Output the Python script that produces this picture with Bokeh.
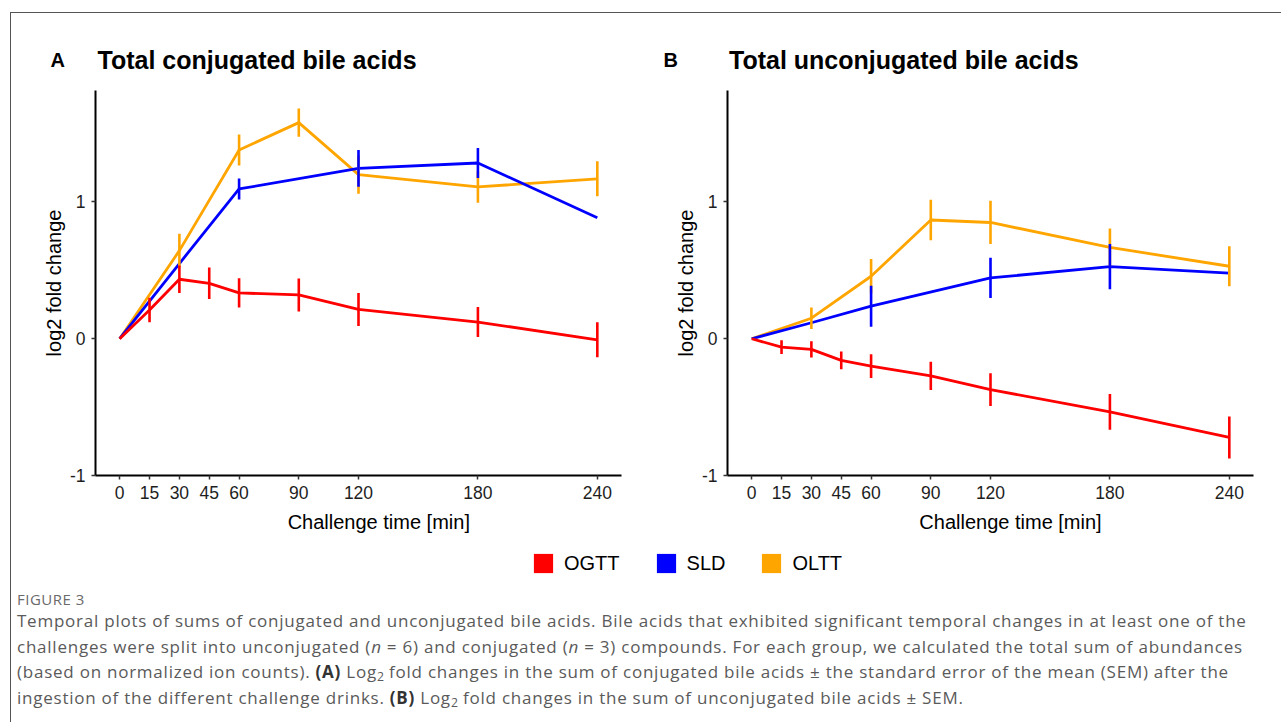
from bokeh.plotting import figure
from bokeh.models import FixedTicker, Range1d, Legend, LegendItem, Div
from bokeh.core.properties import value
from bokeh.layouts import row, column
from bokeh.embed import file_html
from bokeh.resources import INLINE

# ---------------- data ----------------
x_ticks = [0, 15, 30, 45, 60, 90, 120, 180, 240]
y_ticks = [-1, 0, 1]
y_tick_labels = {-1: "-1", 0: "0", 1: "1"}
groups = ["OGTT", "SLD", "OLTT"]
group_colors = ["#FF0000", "#0000FF", "#FFA500"]

times_ogtt = [0, 15, 30, 45, 60, 90, 120, 180, 240]
times_sld = [0, 30, 60, 120, 180, 240]
times_oltt = [0, 30, 60, 90, 120, 180, 240]

# Panel A: total conjugated bile acids (log2 fold change, SEM)
conj_ogtt = [0.0, 0.21, 0.435, 0.405, 0.335, 0.32, 0.214, 0.122, -0.008]
conj_ogtt_sem = [None, 0.09, 0.10, 0.115, 0.107, 0.12, 0.12, 0.11, 0.128]
conj_sld = [0.0, 0.55, 1.095, 1.246, 1.285, 0.885]
conj_sld_sem = [None, None, 0.077, 0.134, 0.11, None]
conj_oltt = [0.0, 0.644, 1.38, 1.58, 1.20, 1.11, 1.169]
conj_oltt_sem = [None, 0.124, 0.113, 0.103, 0.14, 0.115, 0.128]

# Panel B: total unconjugated bile acids
unconj_ogtt = [0.0, -0.061, -0.078, -0.158, -0.20, -0.272, -0.372, -0.535, -0.722]
unconj_ogtt_sem = [None, 0.05, 0.06, 0.065, 0.087, 0.103, 0.12, 0.13, 0.154]
unconj_sld = [0.0, 0.117, 0.238, 0.445, 0.527, 0.479]
unconj_sld_sem = [None, None, 0.15, 0.147, 0.165, None]
unconj_oltt = [0.0, 0.15, 0.457, 0.868, 0.85, 0.668, 0.53]
unconj_oltt_sem = [None, 0.079, 0.126, 0.148, 0.158, 0.138, 0.146]

panel_letters = ["A", "B"]
panel_titles = ["Total conjugated bile acids", "Total unconjugated bile acids"]
x_title = "Challenge time [min]"
y_title = "log2 fold change"

caption_head = "FIGURE 3"
caption_lines = [
    "Temporal plots of sums of conjugated and unconjugated bile acids. Bile acids that exhibited significant temporal changes in at least one of the",
    "challenges were split into unconjugated (<i>n</i> = 6) and conjugated (<i>n</i> = 3) compounds. For each group, we calculated the total sum of abundances",
    "(based on normalized ion counts). <b style='color:#333'>(A)</b> Log<sub>2</sub> fold changes in the sum of conjugated bile acids \u00b1 the standard error of the mean (SEM) after the",
    "ingestion of the different challenge drinks. <b style='color:#333'>(B)</b> Log<sub>2</sub> fold changes in the sum of unconjugated bile acids \u00b1 SEM.",
]

# ---------------- layout geometry ----------------
FIG_W = 630
HEAD_H = 70
PANEL_H = 427
STRIP_H = 30
FRAME_W, FRAME_H = 526, 385
FRAME_TOP = 7
XR = (-12.15, 252.15)
YR = (-1.0, 1.815)
FONT = "Liberation Sans"


def text_strip(height):
    f = figure(width=2 * FIG_W, height=height, output_backend="svg", toolbar_location=None,
               x_range=Range1d(0, 2 * FIG_W), y_range=Range1d(height, 0), min_border=0,
               x_axis_location=None, y_axis_location=None)
    f.xgrid.visible = False
    f.ygrid.visible = False
    f.outline_line_color = None
    f.border_fill_color = None
    f.background_fill_color = None
    return f


# ---------------- header with panel letters and titles ----------------
head = text_strip(HEAD_H)
head.text(x=[39, 652], y=[46.5, 46.5], text=panel_letters, text_font=value(FONT),
          text_font_size="20px", text_font_style="bold", text_color="black",
          text_baseline="alphabetic", text_align="left")
head.text(x=[86, 717.5], y=[46.5, 46.5], text=panel_titles, text_font=value(FONT),
          text_font_size="25px", text_font_style="bold", text_color="black",
          text_baseline="alphabetic", text_align="left")


def make_panel(left_border, series):
    p = figure(width=FIG_W, height=PANEL_H,
               x_range=Range1d(*XR), y_range=Range1d(*YR),
               output_backend="svg", toolbar_location=None,
               min_border_left=left_border,
               min_border_right=FIG_W - left_border - FRAME_W,
               min_border_top=FRAME_TOP,
               min_border_bottom=PANEL_H - FRAME_TOP - FRAME_H)
    p.xgrid.visible = False
    p.ygrid.visible = False
    p.outline_line_color = None
    p.background_fill_color = "white"
    p.border_fill_color = None

    for ax in (p.xaxis[0], p.yaxis[0]):
        ax.axis_line_color = "black"
        ax.axis_line_width = 2
        ax.major_tick_line_color = "#333333"
        ax.major_tick_line_width = 1.5
        ax.major_tick_out = 4
        ax.major_tick_in = 0
        ax.minor_tick_out = 0
        ax.minor_tick_in = 0
        ax.major_label_text_font = FONT
        ax.major_label_text_font_size = "17.5px"
        ax.major_label_text_color = "#1e1e1e"
        ax.major_label_standoff = 6
        ax.axis_label_text_font = FONT
        ax.axis_label_text_font_size = "20px"
        ax.axis_label_text_font_style = "normal"
        ax.axis_label_text_color = "black"
    p.xaxis[0].ticker = FixedTicker(ticks=x_ticks)
    p.yaxis[0].ticker = FixedTicker(ticks=y_ticks)
    p.yaxis[0].major_label_overrides = y_tick_labels
    p.yaxis[0].axis_label = y_title
    p.yaxis[0].axis_label_standoff = 2

    order = [2, 1, 0]
    for gi in order:
        t, m, s = series[gi]
        p.line(t, m, line_color=group_colors[gi], line_width=2.8, line_join="round")
    for gi in order:
        t, m, s = series[gi]
        et = [ti for ti, si in zip(t, s) if si is not None]
        lo = [mi - si for mi, si in zip(m, s) if si is not None]
        hi = [mi + si for mi, si in zip(m, s) if si is not None]
        p.segment(x0=et, y0=lo, x1=et, y1=hi, line_color=group_colors[gi], line_width=2.6)
    return p


series_a = [(times_ogtt, conj_ogtt, conj_ogtt_sem),
            (times_sld, conj_sld, conj_sld_sem),
            (times_oltt, conj_oltt, conj_oltt_sem)]
series_b = [(times_ogtt, unconj_ogtt, unconj_ogtt_sem),
            (times_sld, unconj_sld, unconj_sld_sem),
            (times_oltt, unconj_oltt, unconj_oltt_sem)]

pa = make_panel(84, series_a)
pb = make_panel(86, series_b)

# ---------------- x-axis titles ----------------
strip = text_strip(STRIP_H)
strip.text(x=[367.3, 999.0], y=[11.5, 11.5], text=[x_title, x_title], text_font=value(FONT),
           text_font_size="20px", text_color="black",
           text_baseline="alphabetic", text_align="center")

# ---------------- legend ----------------
lg = text_strip(45)
nan = float("nan")
items = []
for g, c in zip(groups, group_colors):
    r = lg.quad(left=[nan], right=[nan], top=[nan], bottom=[nan], fill_color=c, line_color=None)
    items.append(LegendItem(label=g, renderers=[r]))
legend = Legend(items=items, orientation="horizontal", location=(520, 10),
                glyph_width=24, glyph_height=24, label_standoff=9, spacing=34,
                padding=0, margin=0, border_line_color=None, background_fill_alpha=0,
                label_text_font=FONT, label_text_font_size="20px", label_text_color="black",
                label_height=24, label_text_baseline="middle")
lg.add_layout(legend)

# ---------------- caption ----------------
cap_html = (
    "<div style=\"font-family:'Open Sans',sans-serif;color:#5a5a5a;white-space:nowrap;padding-left:1px;\">"
    "<div style='font-size:15px;letter-spacing:0.5px;line-height:18px;padding-top:0px;color:#6a6a6a;'>" + caption_head + "</div>"
    "<div style='font-size:17px;letter-spacing:0.76px;line-height:25.5px;'>"
    + "<br>".join(caption_lines).replace("<sub>", "<sub style='font-size:0.72em;line-height:0;vertical-align:-0.25em;letter-spacing:0;'>")
    + "</div></div>"
)
cap = Div(text=cap_html, width=2 * FIG_W, height=128)

layout = column(head, row(pa, pb, spacing=0), strip, lg, cap, spacing=0,
                styles={"margin-left": "10px", "margin-top": "12px",
                        "border-left": "1px solid #555555", "border-top": "1px solid #555555"})

open("out.html", "w").write(file_html(layout, INLINE))
